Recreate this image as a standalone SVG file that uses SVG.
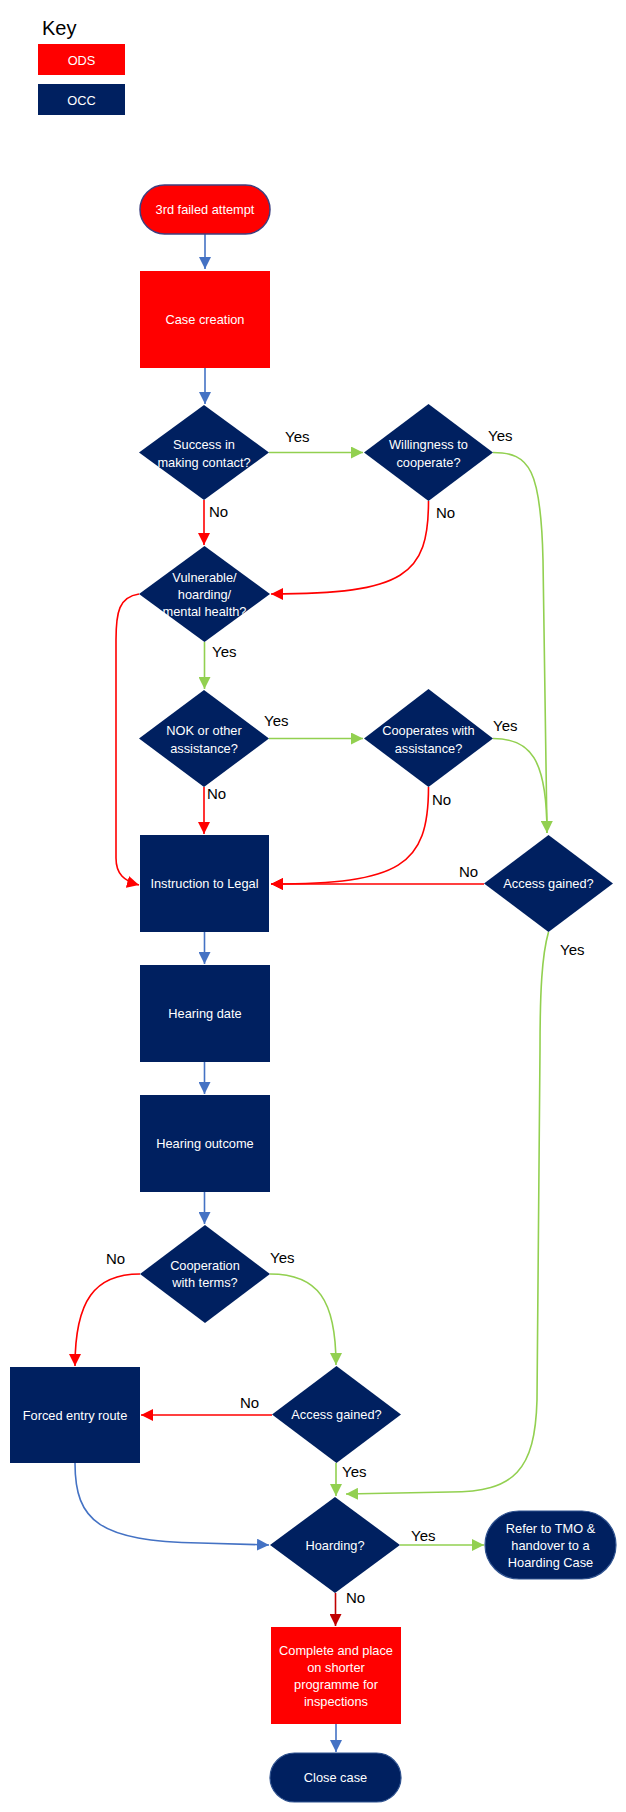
<svg xmlns="http://www.w3.org/2000/svg" width="626" height="1812" viewBox="0 0 626 1812">
<defs>
<style>
.t{font-family:"Liberation Sans",Arial,sans-serif;font-size:12.8px;fill:#ffffff;text-anchor:middle}
.lb{font-family:"Liberation Sans",Arial,sans-serif;font-size:15px;fill:#000000}
.red{fill:#ff0000}
.navy{fill:#002060}
.c{fill:none;stroke-width:1.6}
.cb{stroke:#4472c4}
.cg{stroke:#92d050}
.cr{stroke:#ff0000}
.cd{stroke:#c00000}
</style>
<marker id="ab" markerUnits="userSpaceOnUse" markerWidth="12" markerHeight="12" viewBox="0 0 10 10" refX="10" refY="5" orient="auto"><path d="M0,0 L10,5 L0,10 z" fill="#4472c4"/></marker>
<marker id="ag" markerUnits="userSpaceOnUse" markerWidth="12" markerHeight="12" viewBox="0 0 10 10" refX="10" refY="5" orient="auto"><path d="M0,0 L10,5 L0,10 z" fill="#92d050"/></marker>
<marker id="ar" markerUnits="userSpaceOnUse" markerWidth="12" markerHeight="12" viewBox="0 0 10 10" refX="10" refY="5" orient="auto"><path d="M0,0 L10,5 L0,10 z" fill="#ff0000"/></marker>
<marker id="ad" markerUnits="userSpaceOnUse" markerWidth="12" markerHeight="12" viewBox="0 0 10 10" refX="10" refY="5" orient="auto"><path d="M0,0 L10,5 L0,10 z" fill="#c00000"/></marker>
</defs>
<rect width="626" height="1812" fill="#ffffff"/>

<g id="key">
<text x="42" y="35" font-family="Liberation Sans, Arial, sans-serif" font-size="20" fill="#000">Key</text>
<rect x="38" y="44" width="87" height="31" class="red"/>
<text x="81.5" y="64.5" class="t">ODS</text>
<rect x="38" y="84" width="87" height="31" class="navy"/>
<text x="81.5" y="104.5" class="t">OCC</text>
</g>

<g id="connectors">
<path class="c cb" d="M205,234 L205,269" marker-end="url(#ab)"/>
<path class="c cb" d="M205,368 L205,404" marker-end="url(#ab)"/>
<path class="c cg" d="M269,452.5 L363,452.5" marker-end="url(#ag)"/>
<path class="c cr" d="M204,500 L204,545" marker-end="url(#ar)"/>
<path class="c cr" d="M428.5,501 C428.5,575 405,594 271,594" marker-end="url(#ar)"/>
<path class="c cg" d="M493,452.5 C530,452.5 541,470 543,560 L547,833" marker-end="url(#ag)"/>
<path class="c cr" d="M139,594 C119,597 116,612 116,640 L116,858 C116,874 124,881 139,885" marker-end="url(#ar)"/>
<path class="c cg" d="M204.5,642 L204.5,689" marker-end="url(#ag)"/>
<path class="c cg" d="M269,738.5 L363,738.5" marker-end="url(#ag)"/>
<path class="c cr" d="M204,787 L204,834" marker-end="url(#ar)"/>
<path class="c cr" d="M428.5,787 C428.5,866 400,884 271,884" marker-end="url(#ar)"/>
<path class="c cg" d="M493,738.5 C530,738.5 547,758 547,833"/>
<path class="c cr" d="M484,884 L271,884" marker-end="url(#ar)"/>
<path class="c cg" d="M548.5,932 C542,955 540,990 540,1050 L537,1400 C535,1470 515,1492 450,1492 L346,1494" marker-end="url(#ag)"/>
<path class="c cb" d="M204.5,932 L204.5,964" marker-end="url(#ab)"/>
<path class="c cb" d="M204.5,1062 L204.5,1094" marker-end="url(#ab)"/>
<path class="c cb" d="M204.5,1192 L204.5,1224" marker-end="url(#ab)"/>
<path class="c cr" d="M140,1274 C95,1274 75,1300 75,1366" marker-end="url(#ar)"/>
<path class="c cg" d="M270,1274 C318,1274 336,1300 336,1365" marker-end="url(#ag)"/>
<path class="c cr" d="M272,1415 L141,1415" marker-end="url(#ar)"/>
<path class="c cg" d="M336,1463 L336,1496" marker-end="url(#ag)"/>
<path class="c cb" d="M75,1463 C75,1522 100,1541 200,1543 L269,1545" marker-end="url(#ab)"/>
<path class="c cg" d="M400,1545 L484,1545" marker-end="url(#ag)"/>
<path class="c cd" d="M335.5,1593 L335.5,1626" marker-end="url(#ad)"/>
<path class="c cb" d="M336,1724 L336,1752" marker-end="url(#ab)"/>
</g>

<g id="labels">
<text x="285" y="442" class="lb">Yes</text>
<text x="488" y="441" class="lb">Yes</text>
<text x="209" y="517" class="lb">No</text>
<text x="436" y="518" class="lb">No</text>
<text x="212" y="657" class="lb">Yes</text>
<text x="264" y="726" class="lb">Yes</text>
<text x="493" y="731" class="lb">Yes</text>
<text x="207" y="799" class="lb">No</text>
<text x="432" y="805" class="lb">No</text>
<text x="459" y="877" class="lb">No</text>
<text x="560" y="955" class="lb">Yes</text>
<text x="106" y="1264" class="lb">No</text>
<text x="270" y="1263" class="lb">Yes</text>
<text x="240" y="1408" class="lb">No</text>
<text x="342" y="1477" class="lb">Yes</text>
<text x="411" y="1541" class="lb">Yes</text>
<text x="346" y="1603" class="lb">No</text>
</g>

<g id="n-start">
<rect x="140" y="185" width="130" height="49" rx="24.5" fill="#ff0000" stroke="#3f3f7f" stroke-width="1.5"/>
<text x="205" y="214" class="t">3rd failed attempt</text>
</g>
<g id="n-case">
<rect x="140" y="271" width="130" height="97" class="red"/>
<text x="205" y="324" class="t">Case creation</text>
</g>
<g id="n-contact">
<polygon points="204,405 269,452.5 204,500 139,452.5" class="navy"/>
<text class="t"><tspan x="204" y="448.5">Success in</tspan><tspan x="204" y="466.5">making contact?</tspan></text>
</g>
<g id="n-willing">
<polygon points="428.5,404 493,452.5 428.5,501 364,452.5" class="navy"/>
<text class="t"><tspan x="428.5" y="448.5">Willingness to</tspan><tspan x="428.5" y="466.5">cooperate?</tspan></text>
</g>
<g id="n-vulnerable">
<polygon points="204.5,546 270,594 204.5,642 139,594" class="navy"/>
<text class="t"><tspan x="204.5" y="581.5">Vulnerable/</tspan><tspan x="204.5" y="598.5">hoarding/</tspan><tspan x="204.5" y="615.5">mental health?</tspan></text>
</g>
<g id="n-nok">
<polygon points="204,690 269,738.5 204,787 139,738.5" class="navy"/>
<text class="t"><tspan x="204" y="734.5">NOK or other</tspan><tspan x="204" y="752.5">assistance?</tspan></text>
</g>
<g id="n-coopassist">
<polygon points="428.5,689 493,738.5 428.5,787 364,738.5" class="navy"/>
<text class="t"><tspan x="428.5" y="734.5">Cooperates with</tspan><tspan x="428.5" y="752.5">assistance?</tspan></text>
</g>
<g id="n-access1">
<polygon points="548.5,835 613,883.5 548.5,932 484,883.5" class="navy"/>
<text x="548.5" y="888" class="t">Access gained?</text>
</g>
<g id="n-legal">
<rect x="140" y="835" width="129" height="97" class="navy"/>
<text x="204.5" y="888" class="t">Instruction to Legal</text>
</g>
<g id="n-hearingdate">
<rect x="140" y="965" width="130" height="97" class="navy"/>
<text x="205" y="1018" class="t">Hearing date</text>
</g>
<g id="n-hearingoutcome">
<rect x="140" y="1095" width="130" height="97" class="navy"/>
<text x="205" y="1148" class="t">Hearing outcome</text>
</g>
<g id="n-cooperation">
<polygon points="205,1225 270,1274 205,1323 140,1274" class="navy"/>
<text class="t"><tspan x="205" y="1269.5">Cooperation</tspan><tspan x="205" y="1286.5">with terms?</tspan></text>
</g>
<g id="n-forced">
<rect x="10" y="1367" width="130" height="96" class="navy"/>
<text x="75" y="1419.5" class="t">Forced entry route</text>
</g>
<g id="n-access2">
<polygon points="336.5,1366 401,1414.5 336.5,1463 272,1414.5" class="navy"/>
<text x="336.5" y="1419" class="t">Access gained?</text>
</g>
<g id="n-hoarding">
<polygon points="335,1497 400,1545 335,1593 270,1545" class="navy"/>
<text x="335" y="1549.5" class="t">Hoarding?</text>
</g>
<g id="n-refer">
<rect x="485" y="1511" width="131" height="68" rx="34" fill="#002060" stroke="#2f528f" stroke-width="1.2"/>
<text class="t"><tspan x="550.5" y="1532.5">Refer to TMO &amp;</tspan><tspan x="550.5" y="1549.5">handover to a</tspan><tspan x="550.5" y="1566.5">Hoarding Case</tspan></text>
</g>
<g id="n-complete">
<rect x="271" y="1627" width="130" height="97" class="red"/>
<text class="t"><tspan x="336" y="1654.5">Complete and place</tspan><tspan x="336" y="1671.5">on shorter</tspan><tspan x="336" y="1688.5">programme for</tspan><tspan x="336" y="1705.5">inspections</tspan></text>
</g>
<g id="n-close">
<rect x="270" y="1753" width="131" height="49" rx="24.5" fill="#002060" stroke="#2f528f" stroke-width="1.2"/>
<text x="335.5" y="1782" class="t">Close case</text>
</g>
</svg>
